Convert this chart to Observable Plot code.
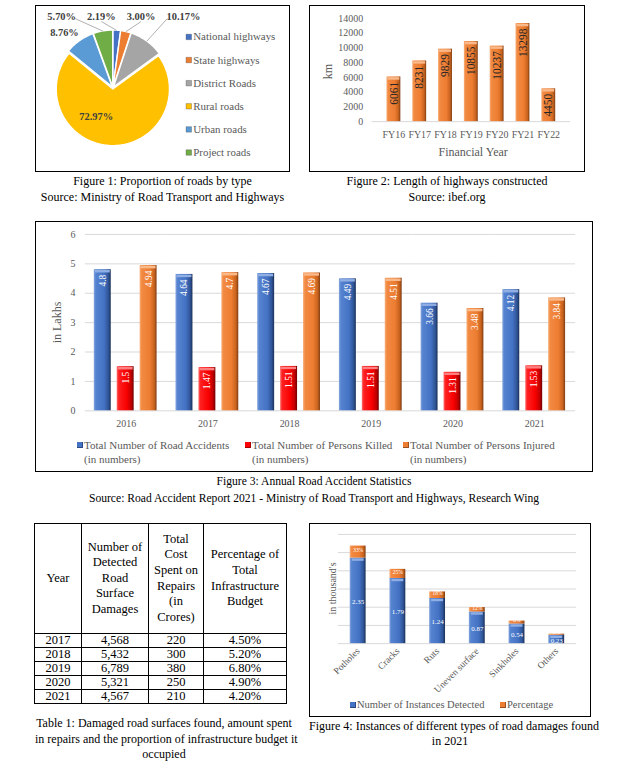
<!DOCTYPE html>
<html><head><meta charset="utf-8">
<script src="https://cdn.jsdelivr.net/npm/d3@7"></script>
<script src="https://cdn.jsdelivr.net/npm/@observablehq/plot@0.6"></script>
<style>
body{margin:0;background:#fff;font-family:"Liberation Serif","Times New Roman",serif;}
#page{position:relative;width:643px;height:770px;overflow:hidden;background:#fff;}
.box{position:absolute;border:1px solid #000;box-sizing:border-box;background:#fff;}
.box svg{position:absolute;left:-1px;top:-1px;overflow:visible;}
.cap{position:absolute;text-align:center;font-size:12px;color:#000;white-space:nowrap;}
.atitle{position:absolute;color:#595959;white-space:nowrap;transform-origin:center center;}
.lg{position:absolute;color:#595959;white-space:nowrap;}
.sq{position:absolute;width:6px;height:6px;}
table.t{position:absolute;border-collapse:collapse;table-layout:fixed;font-family:"Liberation Serif",serif;color:#000;}
table.t td{border:1px solid #000;text-align:center;padding:0;overflow:hidden;}
table.t tr.h td{font-size:12.5px;line-height:15.6px;white-space:pre-line;vertical-align:middle;}
table.t tr.r td{font-size:12.5px;line-height:13px;height:13px;}
</style></head>
<body><div id="page"></div>
<script>
// ---------------- DATA ----------------
const roadTypes = ["National highways","State highways","District Roads","Rural roads","Urban roads","Project roads"];
const roadShares = [2.19, 3.00, 10.17, 72.97, 8.76, 5.70];

const fyLabels = ["FY16","FY17","FY18","FY19","FY20","FY21","FY22"];
const fyKm = [6061, 8231, 9829, 10855, 10237, 13298, 4450];
const kmTicks = [0,2000,4000,6000,8000,10000,12000,14000];

const accYears = ["2016","2017","2018","2019","2020","2021"];
const accidents = [4.8, 4.64, 4.67, 4.49, 3.66, 4.12];
const killed = [1.5, 1.47, 1.51, 1.51, 1.31, 1.53];
const injured = [4.94, 4.7, 4.69, 4.51, 3.48, 3.84];
const accSeries = ["Total Number of Road Accidents", "Total Number of Persons Killed", "Total Number of Persons Injured"];
const accUnit = "(in numbers)";
const lakhTicks = [0,1,2,3,4,5,6];

const tblHead = ["Year", "Number of\nDetected\nRoad\nSurface\nDamages", "Total\nCost\nSpent on\nRepairs\n(in\nCrores)", "Percentage of\nTotal\nInfrastructure\nBudget"];
const tblYears = ["2017","2018","2019","2020","2021"];
const tblDamages = ["4,568","5,432","6,789","5,321","4,567"];
const tblCost = ["220","300","380","250","210"];
const tblPct = ["4.50%","5.20%","6.80%","4.90%","4.20%"];

const damageTypes = ["Potholes","Cracks","Ruts","Uneven surface","Sinkholes","Others"];
const damageCounts = [2.35, 1.79, 1.24, 0.87, 0.54, 0.23];
const damagePct = [0.33, 0.25, 0.18, 0.12, 0.08, 0.03];
const damageTicks = [0,0.5,1,1.5,2,2.5,3];
const damageSeries = ["Number of Instances Detected","Percentage"];

// ---------------- STYLE ----------------
const pieColors = ["#4472C4","#ED7D31","#A5A5A5","#FFC000","#5B9BD5","#70AD47"];
const FONT = "Liberation Serif";
const page = document.getElementById("page");
const NS = "http://www.w3.org/2000/svg";
const grads = {
  gO: [[0,"#F7B27F"],[0.12,"#F28A42"],[0.6,"#ED7D31"],[0.86,"#C9631F"],[1,"#7F3C10"]],
  gB: [[0,"#86A6DD"],[0.12,"#5683D0"],[0.6,"#4472C4"],[0.86,"#2F5597"],[1,"#1A2F57"]],
  gR: [[0,"#FF7070"],[0.12,"#FF2020"],[0.6,"#F80000"],[0.86,"#C00000"],[1,"#700000"]]
};
function addDefs(svg, prefix){
  const defs = document.createElementNS(NS,"defs");
  for (const [id, stops] of Object.entries(grads)){
    const g = document.createElementNS(NS,"linearGradient");
    g.setAttribute("id", prefix+id); g.setAttribute("x1","0"); g.setAttribute("x2","1"); g.setAttribute("y1","0"); g.setAttribute("y2","0");
    for (const [o,c] of stops){ const s=document.createElementNS(NS,"stop"); s.setAttribute("offset",o); s.setAttribute("stop-color",c); g.appendChild(s); }
    defs.appendChild(g);
  }
  svg.insertBefore(defs, svg.firstChild);
}
function box(l,t,w,h){ const d=document.createElement("div"); d.className="box"; Object.assign(d.style,{left:l+"px",top:t+"px",width:w+"px",height:h+"px"}); page.appendChild(d); return d; }
function cap(l,t,w,html,lh,fs){ const d=document.createElement("div"); d.className="cap"; Object.assign(d.style,{left:l+"px",top:t+"px",width:w+"px",lineHeight:lh+"px"}); if(fs) d.style.fontSize=fs+"px"; d.innerHTML=html; page.appendChild(d); }
function atitle(parent, text, cx, cy, size, rot){ const d=document.createElement("div"); d.className="atitle"; d.textContent=text; d.style.fontSize=size+"px"; parent.appendChild(d);
  const w=d.offsetWidth, h=d.offsetHeight; d.style.left=(cx-w/2-1)+"px"; d.style.top=(cy-h/2-1)+"px"; if(rot) d.style.transform="rotate("+rot+"deg)"; }
function legendItem(parent, x, y, color, lines, size, lh){
  const s=document.createElement("div"); s.className="sq"; Object.assign(s.style,{left:(x-3-1)+"px",top:(y-3-1)+"px",background:color,boxShadow:"inset -1px -1px 0 rgba(0,0,0,0.35)"}); parent.appendChild(s);
  const d=document.createElement("div"); d.className="lg"; Object.assign(d.style,{left:(x+4-1)+"px",top:(y-lh/2-1)+"px",fontSize:size+"px",lineHeight:lh+"px"}); d.innerHTML=lines.join("<br>"); parent.appendChild(d);
}

// ---------------- FIGURE 1 : PIE ----------------
{
  const W=255, H=167, cx=78, cy=83, R=57, gap=1.2;
  const b = box(35,5,W,H);
  const pieData = roadTypes.map((t,i)=>({t, v:roadShares[i], c:pieColors[i]}));
  const arcs = d3.pie().sort(null).value(d=>d.v)(pieData);
  const poly=[];
  arcs.forEach((a,i)=>{
    const mid=(a.startAngle+a.endAngle)/2, ox=cx+gap*Math.sin(mid), oy=cy-gap*Math.cos(mid);
    const n=Math.max(4, Math.ceil((a.endAngle-a.startAngle)/0.02));
    poly.push({k:i,c:a.data.c,x:ox,y:oy});
    for(let j=0;j<=n;j++){ const t=a.startAngle+(a.endAngle-a.startAngle)*j/n; poly.push({k:i,c:a.data.c,x:ox+R*Math.sin(t),y:oy-R*Math.cos(t)}); }
    poly.push({k:i,c:a.data.c,x:ox,y:oy});
  });
  const labs = arcs.map((a,i)=>{ const mid=(a.startAngle+a.endAngle)/2; const s=mid>Math.PI?mid-2*Math.PI:mid; const t=a.data.v.toFixed(2)+"%"; return {i,mid,s,t,w:t.length*5.4,big:a.data.v>50}; });
  const top = labs.filter(l=>!l.big && l.s>-0.4 && l.s<0.8).sort((a,b)=>a.s-b.s);
  const rowY = cy-1.26*R;
  let off=0;
  top.forEach((l,j)=>{ l.ix=cx+1.3*R*Math.sin(l.s); if(j>0) off+=(top[j-1].w+l.w)/2+13; l.off=off; l.yv=l.ix-off; l.y=rowY; });
  const blocks=[];
  top.forEach(l=>{ blocks.push({s:l.yv,n:1,items:[l]});
    while(blocks.length>1 && blocks[blocks.length-2].s/blocks[blocks.length-2].n > blocks[blocks.length-1].s/blocks[blocks.length-1].n){ const q=blocks.pop(), p=blocks[blocks.length-1]; p.s+=q.s; p.n+=q.n; p.items.push(...q.items); } });
  blocks.forEach(bl=>{ const m=bl.s/bl.n; bl.items.forEach(l=>l.x=m+l.off-4); });
  labs.forEach(l=>{ if(l.big){ l.x=cx+0.55*R*Math.sin(l.mid)-16; l.y=cy-0.55*R*Math.cos(l.mid)-2; } else if(l.x===undefined){ l.x=cx+1.3*R*Math.sin(l.mid)-6; l.y=cy-1.3*R*Math.cos(l.mid)+5; } });
  const leaders = top.map(l=>({x1:l.x+(l.s<0?l.w/2:(l.s>0.4?-l.w/2:0)), y1:l.y+(Math.abs(l.s)>0.4||l.s<0?2:5), x2:cx+(R+1)*Math.sin(l.mid), y2:cy-(R+1)*Math.cos(l.mid)}));
  const leg = roadTypes.map((t,i)=>({t, c:pieColors[i], y:31.7+i*23.3}));
  const svg = Plot.plot({
    width:W, height:H, margin:0,
    x:{domain:[0,W], range:[0,W], axis:null}, y:{domain:[0,H], range:[0,H], axis:null},
    color:{type:"identity"},
    style:{fontFamily:FONT, background:"transparent", overflow:"visible"},
    marks:[
      Plot.line(poly,{x:"x",y:"y",z:"k",fill:"c",stroke:"#fff",strokeWidth:1.3,strokeLinejoin:"round",curve:"linear"}),
      Plot.link(leaders,{x1:"x1",y1:"y1",x2:"x2",y2:"y2",stroke:"#A6A6A6",strokeWidth:0.9}),
      Plot.text(labs,{x:"x",y:"y",text:"t",fontWeight:"bold",fontSize:10.5,fill:"#404040"}),
      Plot.dot(leg,{x:()=>154.5,y:"y",symbol:"square",r:3.1,fill:"c",stroke:"#333",strokeWidth:0.3}),
      Plot.text(leg,{x:()=>159,y:"y",text:"t",textAnchor:"start",fontSize:11,fill:"#595959"})
    ]
  });
  b.appendChild(svg);
  cap(35,173,255,"Figure 1: Proportion of roads by type<br>Source: Ministry of Road Transport and Highways",16);
}

// ---------------- FIGURE 2 : HIGHWAYS ----------------
{
  const W=276, H=167;
  const b = box(309,5,W,H);
  const fy = fyLabels.map((f,i)=>({f, km:fyKm[i]}));
  const svg = Plot.plot({
    width:W, height:H, marginLeft:63, marginRight:13, marginTop:13, marginBottom:50,
    style:{fontFamily:FONT, fontSize:"10px", color:"#595959", background:"transparent", overflow:"visible"},
    x:{domain:fyLabels, padding:0.48, label:null, tickSize:0, tickPadding:9},
    y:{domain:[0,14000], ticks:kmTicks, tickSize:0, tickPadding:9, label:null, tickFormat:d=>String(d)},
    marks:[
      Plot.ruleY([0],{stroke:"#D9D9D9"}),
      Plot.barY(fy,{x:"f",y:"km",fill:"url(#f2gO)"}),
      Plot.tickY(fy,{x:"f",y:"km",stroke:"#F9B98A",strokeWidth:2.5,dy:1.5,insetLeft:1,insetRight:1}),
      Plot.text(fy,{x:"f",y:"km",text:d=>String(d.km),rotate:-90,textAnchor:"end",dy:5,fill:"#262626",fontSize:11.5})
    ]
  });
  addDefs(svg,"f2");
  b.appendChild(svg);
  atitle(b,"km",19,66,12,-90);
  atitle(b,"Financial Year",164,147,12,0);
  cap(309,173,W,"Figure 2: Length of highways constructed<br>Source: ibef.org",16);
}

// ---------------- FIGURE 3 : ACCIDENTS ----------------
{
  const W=558, H=251;
  const b = box(35,221,W,H);
  const vals = [accidents, killed, injured];
  const fills = ["url(#f3gB)","url(#f3gR)","url(#f3gO)"];
  const caps = ["#8FAEE3","#FF8080","#F9B98A"];
  const sets = vals.map((arr,s)=>accYears.map((y,i)=>({year:y, s, v:arr[i]})));
  const marks = [Plot.ruleY(lakhTicks,{stroke:"#D9D9D9"})];
  sets.forEach((d,s)=>{
    marks.push(Plot.barY(d,{fx:"year",x:"s",y:"v",fill:fills[s]}));
    marks.push(Plot.tickY(d,{fx:"year",x:"s",y:"v",stroke:caps[s],strokeWidth:2.5,dy:1.5,insetLeft:1,insetRight:1}));
  });
  marks.push(Plot.text(sets.flat(),{fx:"year",x:"s",y:"v",text:d=>String(d.v),rotate:-90,textAnchor:"end",dy:5,fill:"#fff",fontSize:9.5}));
  const svg = Plot.plot({
    width:W, height:H, marginLeft:47, marginRight:14, marginTop:13, marginBottom:61,
    style:{fontFamily:FONT, fontSize:"10px", color:"#595959", background:"transparent", overflow:"visible"},
    fx:{domain:accYears, padding:0, label:null, tickSize:0, tickPadding:9, axis:"bottom"},
    x:{domain:[0,1,2], paddingInner:0.25, paddingOuter:0.35, axis:null},
    y:{domain:[0,6], ticks:lakhTicks, tickSize:0, tickPadding:10, label:null, tickFormat:d=>String(d)},
    marks
  });
  addDefs(svg,"f3");
  b.appendChild(svg);
  atitle(b,"in Lakhs",23,101,12,-90);
  const legCols = ["#4472C4","#FF0000","#ED7D31"];
  const legX = [45,213,371];
  accSeries.forEach((s,i)=>legendItem(b, legX[i], 224, legCols[i], [s, accUnit], 11, 14));
  cap(35,473,W,"Figure 3: Annual Road Accident Statistics<br>Source: Road Accident Report 2021 - Ministry of Road Transport and Highways, Research Wing",17,11.6);
}

// ---------------- TABLE 1 ----------------
{
  const t = document.createElement("table"); t.className="t";
  Object.assign(t.style,{left:"34px",top:"523px",width:"252px"});
  const cg = document.createElement("colgroup");
  [47,67,55,83].forEach(w=>{ const c=document.createElement("col"); c.style.width=w+"px"; cg.appendChild(c); });
  t.appendChild(cg);
  const hr = document.createElement("tr"); hr.className="h"; hr.style.height="110px";
  tblHead.forEach(h=>{ const td=document.createElement("td"); td.textContent=h; hr.appendChild(td); });
  t.appendChild(hr);
  tblYears.forEach((y,i)=>{ const tr=document.createElement("tr"); tr.className="r";
    [y, tblDamages[i], tblCost[i], tblPct[i]].forEach(v=>{ const td=document.createElement("td"); td.textContent=v; tr.appendChild(td); });
    t.appendChild(tr); });
  page.appendChild(t);
  cap(35,716,258,"Table 1: Damaged road surfaces found, amount spent<br>in repairs and the proportion of infrastructure budget it<br>occupied",15.5);
}

// ---------------- FIGURE 4 : DAMAGES ----------------
{
  const W=282, H=194;
  const b = box(309,523,W,H);
  const dd = damageTypes.map((t,i)=>({t, n:damageCounts[i], p:damagePct[i]}));
  const svg = Plot.plot({
    width:W, height:H, marginLeft:29, marginRight:13, marginTop:11, marginBottom:73,
    style:{fontFamily:FONT, fontSize:"9.5px", color:"#595959", background:"transparent", overflow:"visible"},
    x:{domain:damageTypes, paddingInner:0.6, paddingOuter:0.3, tickRotate:-45, tickSize:0, tickPadding:6, label:null},
    y:{domain:[0,3], axis:null},
    marks:[
      Plot.ruleY(damageTicks,{stroke:"#D9D9D9"}),
      Plot.barY(dd,{x:"t",y1:0,y2:"n",fill:"url(#f4gB)"}),
      Plot.tickY(dd,{x:"t",y:"n",stroke:"#8FAEE3",strokeWidth:2.5,dy:1.5,insetLeft:2,insetRight:2}),
      Plot.barY(dd,{x:"t",y1:"n",y2:d=>d.n+d.p,fill:"url(#f4gO)"}),
      Plot.text(dd,{x:"t",y:d=>d.n/2,text:d=>d.n.toFixed(2),fill:"#fff",fontSize:7,dy:1}),
      Plot.text(dd,{x:"t",y:d=>d.n+d.p/2,text:d=>Math.round(d.p*100)+"%",fill:"#fff",fontSize:5.5,dy:-2})
    ]
  });
  addDefs(svg,"f4");
  b.appendChild(svg);
  atitle(b,"in thousand's",23,65,10,-90);
  const lc = ["#4472C4","#ED7D31"], lx=[44,194];
  damageSeries.forEach((s,i)=>legendItem(b, lx[i], 182, lc[i], [s], 10.5, 12));
  cap(309,719,W,"Figure 4: Instances of different types of road damages found<br>in 2021",15);
}
</script></body></html>
